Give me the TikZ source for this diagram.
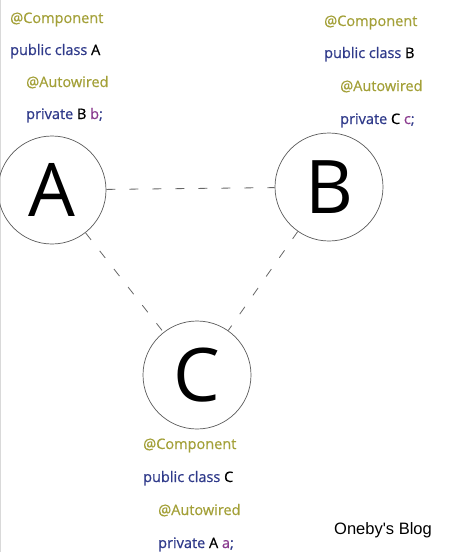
\documentclass[tikz,border=0pt]{standalone}
\usepackage{fontspec}
\setmainfont{Open Sans}
\newfontfamily\codefont{Open Sans}[FakeBold=0.7]
\newfontfamily\markfont{Liberation Sans}
\usetikzlibrary{positioning}
\definecolor{annocolor}{HTML}{A3A038}
\definecolor{kwcolor}{HTML}{2F3A8A}
\definecolor{varcolor}{HTML}{8A3A8E}
\tikzset
{
    beannode/.style = {circle, draw=black!65, line width=0.7pt, minimum size=108pt, inner sep=0pt, font=\fontsize{74}{74}\selectfont},
    anno/.style     = {anchor=base west, inner sep=0pt, text=annocolor, font=\codefont\fontsize{14.5}{15}\selectfont},
    code/.style     = {anchor=base west, inner sep=0pt, text=kwcolor, font=\codefont\fontsize{14.5}{15}\selectfont},
    link/.style     = {draw=black!60, line width=0.8pt, dash pattern=on 9pt off 14pt}
}

\begin{document}
\begin{tikzpicture}[x=1pt,y=-1pt]
	\useasboundingbox (0,0) rectangle (462,552);
	\draw[black!15] (0.5,0) -- (0.5,552);
	% beans
	\node[beannode] (A) at (52,190) {A};
	\node[beannode] (B) at (329,187) {B};
	\node[beannode] (C) at (197,375) {C};
	\draw[link] (A) -- (B);
	\draw[link] (A) -- (C);
	\draw[link] (B) -- (C);
	% class A
	\node[anno] (compA) at (10,23) {@Component};
	\node[code] (clsA) at (10,55) {public class \textcolor{black}{A}};
	\node[anno] (autoA) at (26,87) {@Autowired};
	\node[code] (fieldA) at (26,119) {private \textcolor{black}{B} \textcolor{varcolor}{b};};
	% class B
	\node[anno] (compB) at (324,26) {@Component};
	\node[code] (clsB) at (324,58) {public class \textcolor{black}{B}};
	\node[anno] (autoB) at (340,91) {@Autowired};
	\node[code] (fieldB) at (340,124) {private \textcolor{black}{C} \textcolor{varcolor}{c};};
	% class C
	\node[anno] (compC) at (143,449) {@Component};
	\node[code] (clsC) at (143,482) {public class \textcolor{black}{C}};
	\node[anno] (autoC) at (158,515) {@Autowired};
	\node[code] (fieldC) at (158,548) {private \textcolor{black}{A} \textcolor{varcolor}{a};};
	% watermark
	\node[anchor=base west, inner sep=0pt, font=\markfont\fontsize{16.5}{17}\selectfont] (mark) at (334,534) {Oneby's Blog};
\end{tikzpicture}
\end{document}
